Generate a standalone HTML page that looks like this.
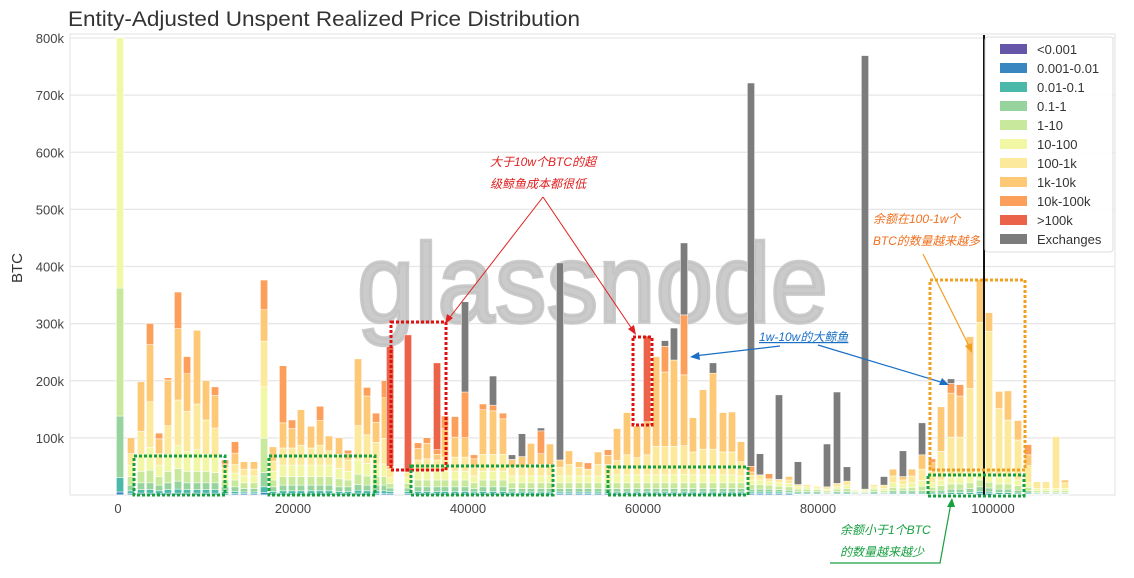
<!DOCTYPE html>
<html><head><meta charset="utf-8">
<style>
body{margin:0;background:#fff;width:1134px;height:578px;overflow:hidden;font-family:"Liberation Sans","Noto Sans CJK SC",sans-serif;}
svg{display:block}
</style></head>
<body>
<svg id="chart" width="1134" height="578" viewBox="0 0 1134 578" xmlns="http://www.w3.org/2000/svg">
<text x="68" y="26" font-size="21" textLength="512" lengthAdjust="spacingAndGlyphs" fill="#333" font-family="Liberation Sans, sans-serif">Entity-Adjusted Unspent Realized Price Distribution</text>
<text transform="translate(22,268) rotate(-90)" text-anchor="middle" font-size="15" fill="#333">BTC</text>
<g id="grid"></g>
<text x="357" y="322" font-size="112" textLength="471" lengthAdjust="spacingAndGlyphs" fill="#c2c2c2" stroke="#c2c2c2" stroke-width="3.5" fill-opacity="0.85" stroke-opacity="0.85" font-family="Liberation Sans, sans-serif">glassnode</text>
<g id="bars"></g>
<g id="axes"></g>
<line x1="984" y1="35" x2="984" y2="495" stroke="#111" stroke-width="2"/>
<g id="legend"></g>
<g id="annotations" font-style="italic" font-size="12">
 <text x="490" y="166" fill="#e02020">大于10w个BTC的超</text>
 <text x="490" y="188" fill="#e02020">级鲸鱼成本都很低</text>
 <line x1="543" y1="197" x2="447" y2="321" stroke="#e02020" stroke-width="1"/>
 <polygon points="445,324 447,314 453,318" fill="#e02020"/>
 <line x1="543" y1="197" x2="634" y2="332" stroke="#e02020" stroke-width="1"/>
 <polygon points="636,335 628,329 634,325" fill="#e02020"/>
 <rect x="391" y="322" width="55" height="148" fill="none" stroke="#e01010" stroke-width="3" stroke-dasharray="3,2"/>
 <rect x="633" y="337" width="19" height="88" fill="none" stroke="#e01010" stroke-width="3" stroke-dasharray="3,2"/>
 <text x="759" y="341" fill="#1a6fc4" text-decoration="underline">1w-10w的大鲸鱼</text>
 <line x1="780" y1="346" x2="694" y2="356" stroke="#1a6fc4" stroke-width="1.2"/>
 <polygon points="690,357 699,352 700,360" fill="#1a6fc4"/>
 <line x1="818" y1="345" x2="944" y2="383" stroke="#1a6fc4" stroke-width="1.2"/>
 <polygon points="949,385 939,385 942,378" fill="#1a6fc4"/>
 <text x="873" y="223" fill="#f07020">余额在100-1w个</text>
 <text x="873" y="245" fill="#f07020" textLength="107" lengthAdjust="spacingAndGlyphs">BTC的数量越来越多</text>
 <line x1="923" y1="254" x2="970" y2="348" stroke="#f0a020" stroke-width="1.2"/>
 <polygon points="972,353 965,346 972,343" fill="#f0a020"/>
 <rect x="930" y="280" width="95" height="190" fill="none" stroke="#f0a020" stroke-width="3" stroke-dasharray="3,2"/>
 <rect x="134" y="456" width="91" height="39" fill="none" stroke="#18a040" stroke-width="3" stroke-dasharray="3,2"/>
 <rect x="269" y="456" width="106" height="39" fill="none" stroke="#18a040" stroke-width="3" stroke-dasharray="3,2"/>
 <rect x="411" y="466" width="142" height="29" fill="none" stroke="#18a040" stroke-width="3" stroke-dasharray="3,2"/>
 <rect x="608" y="467" width="140" height="28" fill="none" stroke="#18a040" stroke-width="3" stroke-dasharray="3,2"/>
 <rect x="928" y="475" width="96" height="21" fill="none" stroke="#18a040" stroke-width="3" stroke-dasharray="3,2"/>
 <text x="840" y="534" fill="#18a040">余额小于1个BTC</text>
 <text x="840" y="556" fill="#18a040">的数量越来越少</text>
 <polyline points="830,563 940,563 951,503" fill="none" stroke="#18a040" stroke-width="1.2"/>
 <polygon points="952,498 947,507 955,507" fill="#18a040"/>
</g>
</svg>
<script>
const prices=[0.23,1.49,2.63,3.66,4.69,5.71,6.86,7.89,9.03,10.06,11.09,12.23,13.37,14.4,15.54,16.69,17.71,18.86,19.89,20.91,22.06,23.09,24.11,25.26,26.29,27.43,28.46,29.49,30.51,31.09,33.14,34.29,35.31,36.46,37.37,38.51,39.66,40.69,41.71,42.86,44,45.03,46.17,47.2,48.34,49.37,50.51,51.54,52.69,53.71,54.86,56,57.03,58.17,59.31,60.46,61.49,62.51,63.54,64.69,65.71,66.86,68,69.14,70.17,71.2,72.34,73.37,74.4,75.54,76.69,77.71,78.74,79.89,81.03,82.17,83.31,84.23,85.37,86.4,87.54,88.57,89.71,90.74,91.89,93.03,94.06,95.2,96.23,97.37,98.51,99.54,100.69,101.71,102.86,104,105.03,106.06,107.2,108.23];
const sLt0001=new Array(100).fill(0.3);
const s0001=[5,2,3,3,2,3,3,3,3,3, 3,2,2,2,2,4,2,2,2,2, 2,2,2,2,2,3,2,2,2,2, 2,2,2,2,2,2,2,2,2,2, 2,2,2,2,2,2,2,2,2,2, 2,2,2,2,2,2,2,2,2,2, 2,2,2,2,2,2,2,2,2,2, 2,1,1,1,1,1,1,1,1,1, 1,1,1,1,1,1,1,1,1,1, 2,2,1,1,1,1,1,1,1,1];
const s001=[25,5,6,6,5,6,7,6,6,6, 6,4,4,3,3,10,4,5,5,5, 5,5,5,4,4,5,5,5,5,4, 4,4,4,4,4,4,4,3,4,4, 4,3,3,3,3,3,3,3,3,3, 3,3,3,3,3,3,3,3,3,3, 3,3,3,3,3,3,3,3,3,3, 2,2,2,2,1,2,2,1,1,2, 1,2,2,2,2,2,2,3,3,3, 4,3,3,3,2,2,1,1,1,1];
const s01=[108,10,12,12,10,12,14,12,12,12, 12,8,8,6,6,25,8,10,10,10, 10,10,10,8,8,10,10,10,10,6, 6,8,8,8,8,8,8,6,8,8, 8,6,6,6,6,6,6,6,6,6, 6,6,6,6,6,6,6,6,6,6, 6,6,6,6,6,6,5,5,5,4, 4,3,3,3,2,3,3,2,2,3, 2,4,4,4,4,4,5,6,6,7, 8,7,6,6,5,4,2,2,2,2];
const s1=[224,15,20,22,15,20,22,20,20,20, 18,12,12,10,10,60,12,15,15,15, 15,15,15,14,12,18,16,15,15,8, 8,12,12,12,12,12,12,10,12,12, 12,10,10,10,10,10,10,10,10,10, 10,10,10,10,10,10,10,10,10,10, 10,10,10,10,10,10,8,8,7,6, 6,4,4,3,3,4,5,2,2,4, 3,6,5,6,8,6,8,9,9,10, 12,10,9,9,8,6,3,3,3,3];
const s10=[438,20,30,40,20,30,40,35,38,30, 28,12,12,12,12,90,15,20,20,20, 20,20,20,18,15,25,22,20,22,10, 10,15,15,15,15,15,15,12,15,15, 15,12,12,12,12,12,12,12,12,12, 12,12,14,14,14,14,14,14,14,15, 14,14,14,14,14,12,8,8,6,6, 6,4,4,3,3,4,6,2,2,4, 4,8,6,8,10,8,10,12,12,15, 16,14,12,12,10,8,4,4,4,4];
const s100=[0,20,40,80,20,50,80,70,80,60, 50,10,15,12,12,80,18,30,30,35, 30,35,25,25,20,60,50,40,45,15, 10,20,22,20,25,25,25,15,30,30, 30,15,15,20,20,20,15,20,15,12, 20,20,25,35,30,35,50,50,50,50, 40,45,45,40,40,25,8,9,5,6, 6,4,4,3,4,6,7,1,2,4, 6,12,8,12,20,20,50,70,70,150, 260,250,120,100,70,30,12,12,91,10];
const s1k=[0,28,87,100,26,80,125,66,129,69, 57,6,20,13,13,55,25,44,34,62, 38,43,26,29,11,117,68,35,71,5, 0,20,27,10,50,35,34,15,78,76, 62,14,19,37,19,36,13,24,10,0, 22,16,56,74,56,58,157,130,151,124, 60,104,133,69,70,35,6,0,0,0, 6,0,0,0,0,0,0,0,0,0, 0,12,6,12,25,15,78,77,72,91, 75,33,30,51,34,19,0,0,0,5];
const s10k=[0,0,0,37,10,4,64,30,0,0, 15,7,20,0,0,52,0,100,15,0, 0,25,0,0,6,0,15,16,30,0, 0,10,10,8,22,36,80,7,10,10, 10,0,0,0,40,0,0,0,0,11, 0,10,0,0,0,0,0,45,0,105, 0,0,0,0,0,0,10,0,9,0, 0,0,0,0,0,0,0,0,0,0, 0,0,0,0,0,7,0,17,20,0, 0,0,0,0,0,18,0,0,0,0];
const s100k=[0,0,0,0,0,0,0,0,0,0, 0,0,0,0,0,0,0,0,0,0, 0,0,0,0,0,0,0,0,0,210, 240,0,0,152,0,0,0,0,0,0, 0,0,0,0,0,0,0,0,0,0, 0,0,0,0,0,150,0,0,0,0, 0,0,0,0,0,0,0,0,0,0, 0,0,0,0,0,0,0,0,0,0, 0,0,0,0,0,0,0,0,0,0, 0,0,0,0,0,0,0,0,0,0];
const sExch=[0,0,0,0,0,0,0,0,0,0, 0,0,0,0,0,0,0,0,0,0, 0,0,0,0,0,0,0,0,0,0, 0,0,0,0,0,0,158,0,0,51, 0,8,40,0,5,0,345,0,0,0, 0,0,0,0,0,0,0,10,56,126, 0,0,18,0,0,0,671,37,0,148, 0,40,0,0,75,160,25,0,759,0, 15,0,45,0,56,0,0,8,0,0, 0,0,0,0,0,0,0,0,0,0];
const seriesNames=["<0.001","0.001-0.01","0.01-0.1","0.1-1","1-10","10-100","100-1k","1k-10k","10k-100k",">100k","Exchanges"];
const seriesColors=["#6656a8","#3a86c0","#4bb9a9","#96d39d","#c8e89b","#f2f7a6","#fde99b","#fdc977","#fb9f5b","#eb6449","#7c7c7c"];
const seriesData=[sLt0001,s0001,s001,s01,s1,s10,s100,s1k,s10k,s100k,sExch];
const yTicks=[100,200,300,400,500,600,700,800];
const yTickLabels=["100k","200k","300k","400k","500k","600k","700k","800k"];
const xTicks=[0,20000,40000,60000,80000,100000];
const xTickLabels=["0","20000","40000","60000","80000","100000"];

const NS="http://www.w3.org/2000/svg";
const xScale=p=>118+p*8.75;
const yScale=v=>495-v*0.5712;
function mk(tag,attrs,parent){const e=document.createElementNS(NS,tag);for(const k in attrs)e.setAttribute(k,attrs[k]);parent.appendChild(e);return e;}
const grid=document.getElementById('grid'),bars=document.getElementById('bars'),axes=document.getElementById('axes'),legend=document.getElementById('legend');
let fr=mk('rect',{x:70,y:34,width:1045,height:461,fill:'none',stroke:'#e6e6e6','stroke-width':1.2},grid);


yTicks.forEach((t,i)=>{
  const y=yScale(t);
  const g=mk('line',{x1:70,x2:1115,y1:y,y2:y,stroke:'#e6e6e6','stroke-width':1.2},grid);
  
  
  const tx=mk('text',{x:64,y:y+5,'text-anchor':'end','font-size':13,fill:'#444'},axes);
  tx.textContent=yTickLabels[i];
  
  
});
xTicks.forEach((t,i)=>{
  const tx=mk('text',{x:xScale(t/1000),y:513,'text-anchor':'middle','font-size':13,fill:'#444'},axes);
  tx.textContent=xTickLabels[i];
  
  
});
prices.forEach((p,i)=>{
  let acc=0;const cx=xScale(p);
  seriesData.forEach((arr,s)=>{
    const v=arr[i];if(!v)return;
    const y0=yScale(acc),y1=yScale(acc+v);acc+=v;
    const r=mk('rect',{x:cx-3.6,y:y1,width:7.2,height:Math.max(0.3,y0-y1),fill:seriesColors[s],stroke:'#fff','stroke-width':0.5},bars);
    
    
  });
});
const lb=mk('rect',{x:985,y:37,width:128,height:215,fill:'#fff','fill-opacity':0.9,stroke:'#ddd',rx:3},legend);


seriesNames.forEach((n,i)=>{
  const y=49+i*19;
  const g=mk('g',{},legend);
  
  
  mk('rect',{x:1000,y:y-5,width:27,height:10,fill:seriesColors[i]},g);
  const t=mk('text',{x:1037,y:y+5,'font-size':13,fill:'#333'},g);
  t.textContent=n;
});
</script>
</body></html>
